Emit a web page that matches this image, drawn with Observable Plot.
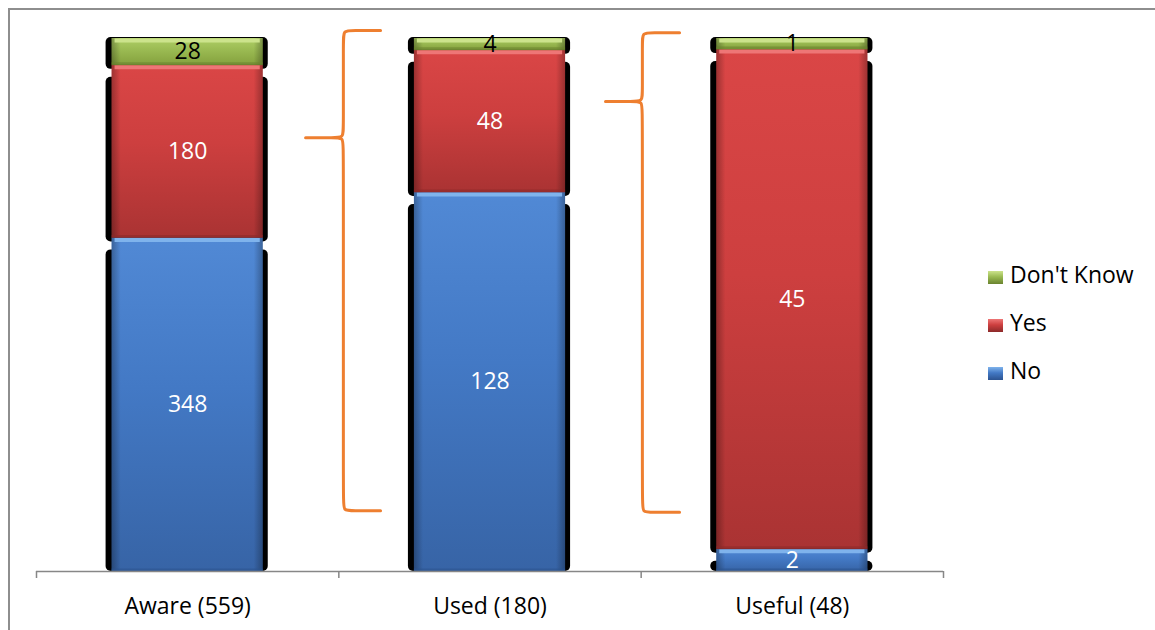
<!DOCTYPE html>
<html>
<head>
<meta charset="utf-8">
<script src="https://cdn.jsdelivr.net/npm/d3@7"></script>
<script src="https://cdn.jsdelivr.net/npm/@observablehq/plot@0.6"></script>
<style>
  body { margin: 0; background: #fff; overflow: hidden; font-family: "Open Sans", sans-serif; }
  #wrap { position: relative; width: 1155px; height: 630px; overflow: hidden; background: #fff; }
  #frame { position: absolute; left: 8px; top: 8px; width: 1300px; height: 800px; border: 2px solid #8e8e8e; box-sizing: border-box; }
  #chart { position: absolute; left: 0; top: 0; }
  .item { position: absolute; left: 988px; height: 23px; font-size: 23px; line-height: 23px; white-space: nowrap; color: #000; }
  .item .sw { position: absolute; left: 0; top: 8px; width: 15px; height: 13px; }
  .item .tx { position: absolute; left: 22px; top: 0; }
</style>
</head>
<body>
<div id="wrap">
  <div id="frame"></div>
  <div id="chart"></div>
  <div id="legend"></div>
</div>
<script>
// Survey responses per stage, stacked bottom-to-top as No, Yes, Don't Know
const categories = ["Aware (559)", "Used (180)", "Useful (48)"];
const responses = ["No", "Yes", "Don't Know"];
const noCounts = [348, 128, 2];
const yesCounts = [180, 48, 45];
const dontKnowCounts = [28, 4, 1];
const legendOrder = ["Don't Know", "Yes", "No"];

// Curly braces linking the "Yes" share of one stage to the next stage (x in stage units, y as share)
const braceSpines = [1.015, 2.004];
const braceEnds = [1.138, 2.127];
const braceTips = [0.890, 1.882];
const braceTops = [1.015, 1.011];
const braceMids = [0.814, 0.882];
const braceBottoms = [0.114, 0.111];

// Visual styling per response
const style = {
  "No":         {id: "g-no", top: "#5189d5", mid: "#4379c5", bottom: "#3764a6", hi: "#7fb3ec", lo: "#2c5390", label: "#fff"},
  "Yes":        {id: "g-yes", top: "#da4646", mid: "#cd3f3f", bottom: "#aa3333", hi: "#ee7676", lo: "#8c2a2a", label: "#fff"},
  "Don't Know": {id: "g-dk", top: "#afcf66", mid: "#9aba52", bottom: "#84a13d", hi: "#cce38c", lo: "#6a832f", label: "#000"}
};

// Normalised stacked segments
const rows = [];
categories.forEach((cat, i) => {
  const counts = [noCounts[i], yesCounts[i], dontKnowCounts[i]];
  const total = d3.sum(counts);
  let acc = 0;
  counts.forEach((c, k) => {
    const y1 = acc / total;
    acc += c;
    rows.push({category: cat, i, response: responses[k], count: c, y1, y2: acc / total});
  });
});
const barX1 = d => d.i + 0.25;
const barX2 = d => d.i + 0.75;

// Brace outline as control points for a basis curve
function bracePoints(k) {
  const s = braceSpines[k], e = braceEnds[k], t = braceTips[k];
  const top = braceTops[k], mid = braceMids[k], bot = braceBottoms[k];
  const rx = 0.03, ry = 0.018;
  return [
    [e, top], [e, top],
    [s + rx, top], [s, top], [s, top - ry],
    [s, mid + ry], [s, mid], [s - rx, mid],
    [t, mid], [t, mid], [t, mid],
    [s - rx, mid], [s, mid], [s, mid - ry],
    [s, bot + ry], [s, bot], [s + rx, bot],
    [e, bot], [e, bot]
  ].map(([x, y]) => ({x, y, brace: k}));
}
const braceData = braceSpines.flatMap((_, k) => bracePoints(k));

const marks = [];

// dark drop-shadow behind each segment
const shadowInsets = {"No": [12, 0], "Yes": [12, -4], "Don't Know": [-1, -4]};
for (const r of responses) {
  marks.push(Plot.rect(rows.filter(d => d.response === r), {
    x1: barX1, x2: barX2, y1: "y1", y2: "y2",
    fill: "#000", rx: 5,
    insetLeft: -6, insetRight: -5,
    insetTop: shadowInsets[r][0], insetBottom: shadowInsets[r][1]
  }));
}
// coloured segments
for (const r of responses) {
  marks.push(Plot.rect(rows.filter(d => d.response === r), {
    x1: barX1, x2: barX2, y1: "y1", y2: "y2",
    fill: `url(#${style[r].id})`
  }));
}
// side shading
marks.push(Plot.rect(rows, {x1: barX1, x2: barX2, y1: "y1", y2: "y2", fill: "url(#g-side)"}));
// bevel highlight / lowlight edges
for (const r of responses) {
  const sub = rows.filter(d => d.response === r);
  marks.push(Plot.ruleY(sub, {y: "y2", x1: barX1, x2: barX2, stroke: style[r].hi, strokeWidth: 4, dy: 2, insetLeft: 3, insetRight: 3}));
  marks.push(Plot.ruleY(sub, {y: "y1", x1: barX1, x2: barX2, stroke: style[r].lo, strokeWidth: 3, dy: -1.5, strokeOpacity: 0.6}));
}
// value labels
marks.push(Plot.text(rows, {
  x: d => d.i + 0.5, y: d => (d.y1 + d.y2) / 2,
  text: d => String(d.count),
  fill: d => style[d.response].label,
  fontSize: 23, lineAnchor: "middle"
}));
// baseline, boundary ticks and stage labels
marks.push(Plot.ruleY([0], {x1: 0, x2: categories.length, stroke: "#878787", strokeWidth: 1.5}));
marks.push(Plot.axisX({ticks: d3.range(categories.length + 1), tickSize: 7, tickFormat: () => "", label: null, stroke: "#878787", strokeWidth: 1.5}));
marks.push(Plot.text(categories, {x: (d, i) => i + 0.5, y: 0, text: d => d, dy: 35, fontSize: 23, fill: "#000", lineAnchor: "middle"}));
// braces
marks.push(Plot.line(braceData, {x: "x", y: "y", z: "brace", curve: "basis", stroke: "#ee7f30", strokeWidth: 3, strokeLinecap: "round"}));

const chart = Plot.plot({
  width: 1155,
  height: 630,
  marginLeft: 36,
  marginRight: 212,
  marginTop: 38,
  marginBottom: 59,
  x: {type: "linear", domain: [0, categories.length], axis: null, label: null},
  y: {type: "linear", domain: [0, 1], axis: null, label: null},
  style: {fontFamily: "Open Sans", fontSize: "23px", background: "transparent", overflow: "visible"},
  marks
});

// gradient definitions for the bevelled bar look
const defs = d3.select(chart).insert("defs", ":first-child");
for (const r of responses) {
  const s = style[r];
  const g = defs.append("linearGradient").attr("id", s.id).attr("x1", 0).attr("y1", 0).attr("x2", 0).attr("y2", 1);
  g.append("stop").attr("offset", "0%").attr("stop-color", s.top);
  g.append("stop").attr("offset", "45%").attr("stop-color", s.mid);
  g.append("stop").attr("offset", "100%").attr("stop-color", s.bottom);
}
const side = defs.append("linearGradient").attr("id", "g-side").attr("x1", 0).attr("y1", 0).attr("x2", 1).attr("y2", 0);
side.append("stop").attr("offset", "0%").attr("stop-color", "#000").attr("stop-opacity", 0.28);
side.append("stop").attr("offset", "6%").attr("stop-color", "#000").attr("stop-opacity", 0);
side.append("stop").attr("offset", "94%").attr("stop-color", "#000").attr("stop-opacity", 0);
side.append("stop").attr("offset", "100%").attr("stop-color", "#000").attr("stop-opacity", 0.28);

document.getElementById("chart").appendChild(chart);

// legend
const legend = document.getElementById("legend");
const legendTops = {"Don't Know": 263, "Yes": 311, "No": 359};
for (const r of legendOrder) {
  const s = style[r];
  const item = document.createElement("div");
  item.className = "item";
  item.style.top = legendTops[r] + "px";
  const box = document.createElement("div");
  box.className = "sw";
  box.style.background = `linear-gradient(${s.hi}, ${s.mid} 45%, ${s.lo})`;
  const tx = document.createElement("span");
  tx.className = "tx";
  tx.textContent = r;
  item.appendChild(box);
  item.appendChild(tx);
  legend.appendChild(item);
}
</script>
</body>
</html>
